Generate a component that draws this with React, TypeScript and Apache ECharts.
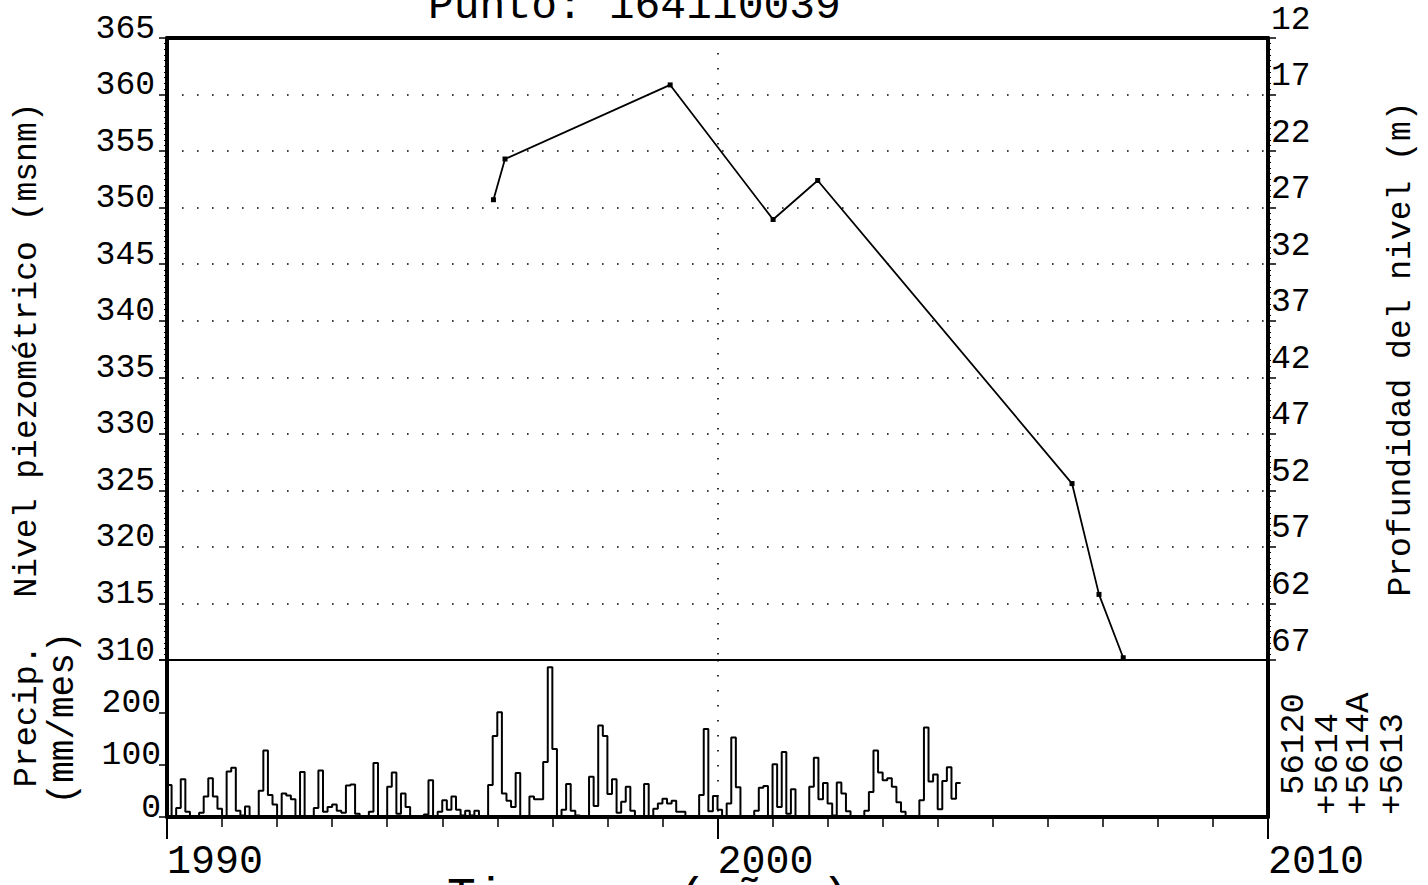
import React, { useEffect, useRef } from "react";
import * as echarts from "echarts";

// ---- Data ----
const title = "Punto: 164110039";
const xTitle = "Tiempo  (años)";
const leftTitle = "Nivel piezométrico (msnm)";
const rightTitle = "Profundidad del nivel (m)";
const precipTitle1 = "Precip.";
const precipTitle2 = "(mm/mes)";
const stationCodes = ["56120", "+5614", "+5614A", "+5613"];

// piezometric level observations (decimal year, m a.s.l.)
const levelDates = [1995.93, 1996.14, 1999.14, 2001.01, 2001.82, 2006.44, 2006.93, 2007.37];
const levelValues = [350.7, 354.3, 360.85, 348.95, 352.4, 325.6, 315.8, 310.2];

// monthly precipitation (mm/month), starting January 1990
const precipStartYear = 1990;
const precip1990 = [61, 0, 17, 72, 10, 0, 0, 8, 39, 74, 39, 16];
const precip1991 = [0, 87, 94, 12, 3, 20, 0, 0, 50, 127, 42, 24];
const precip1992 = [0, 45, 41, 34, 0, 86, 0, 0, 17, 89, 10, 19];
const precip1993 = [24, 12, 8, 60, 62, 6, 0, 0, 10, 103, 0, 0];
const precip1994 = [58, 85, 6, 45, 19, 0, 0, 0, 5, 70, 0, 10];
const precip1995 = [32, 14, 39, 14, 3, 12, 3, 12, 0, 0, 61, 155];
const precip1996 = [200, 45, 31, 19, 84, 0, 0, 39, 34, 34, 105, 286];
const precip1997 = [130, 0, 14, 63, 12, 3, 0, 0, 77, 21, 175, 155];
const precip1998 = [44, 72, 8, 29, 58, 12, 0, 0, 63, 0, 16, 26];
const precip1999 = [35, 26, 31, 10, 10, 0, 0, 0, 42, 168, 11, 40];
const precip2000 = [14, 0, 26, 152, 57, 0, 0, 0, 12, 56, 59, 0];
const precip2001 = [101, 19, 124, 6, 53, 0, 0, 0, 58, 113, 34, 65];
const precip2002 = [26, 3, 66, 45, 11, 0, 0, 0, 12, 48, 127, 85];
const precip2003 = [70, 74, 58, 28, 10, 0, 0, 0, 32, 171, 68, 81];
const precip2004 = [15, 69, 95, 35, 65];

const precipMonthly = [
  ...precip1990, ...precip1991, ...precip1992, ...precip1993, ...precip1994,
  ...precip1995, ...precip1996, ...precip1997, ...precip1998, ...precip1999,
  ...precip2000, ...precip2001, ...precip2002, ...precip2003, ...precip2004,
];

const FONT = "'Liberation Mono', 'Courier New', monospace";

export default function App() {
  const ref = useRef<HTMLDivElement>(null);

  useEffect(() => {
    if (!ref.current) return;
    const chart = echarts.init(ref.current, undefined, { renderer: "svg" });

    // step outline for monthly precipitation
    const precipSteps: [number, number][] = [];
    precipMonthly.forEach((v, k) => {
      const t0 = precipStartYear + k / 12;
      const t1 = precipStartYear + (k + 1) / 12;
      precipSteps.push([t0, v], [t1, v]);
    });

    const dotted = { color: "#000", width: 1.6, type: [1.6, 13.4] };
    const black = "#000";

    const txt = (
      text: string,
      x: number,
      y: number,
      size: number,
      align: string,
      rotation = 0
    ) => ({
      type: "text",
      x,
      y,
      rotation,
      silent: true,
      style: {
        text,
        fill: black,
        font: `${size}px ${FONT}`,
        fontSize: size,
        fontFamily: FONT,
        align,
        textAlign: align,
        verticalAlign: "middle",
        textVerticalAlign: "middle",
      },
    });

    const option: any = {
      animation: false,
      backgroundColor: "#fff",
      grid: [
        { left: 167, top: 38, width: 1101, height: 622 },
        { left: 167, top: 660, width: 1101, height: 157 },
      ],
      xAxis: [
        {
          type: "value",
          gridIndex: 0,
          min: 1990,
          max: 2010,
          interval: 10,
          position: "bottom",
          axisLine: { show: true, onZero: false, lineStyle: { color: black, width: 1.8 } },
          axisTick: { show: false },
          axisLabel: { show: false },
          splitLine: { show: true, lineStyle: dotted },
        },
        {
          type: "value",
          gridIndex: 0,
          min: 1990,
          max: 2010,
          interval: 10,
          position: "top",
          axisLine: { show: true, onZero: false, lineStyle: { color: black, width: 4 } },
          axisTick: { show: false },
          axisLabel: { show: false },
          splitLine: { show: false },
        },
        {
          type: "value",
          gridIndex: 1,
          min: 1990,
          max: 2010,
          interval: 10,
          position: "bottom",
          axisLine: { show: true, onZero: false, lineStyle: { color: black, width: 4 } },
          axisTick: { show: true, length: 22, lineStyle: { color: black, width: 2 } },
          minorTick: { show: true, splitNumber: 10, length: 10, lineStyle: { color: black, width: 1.5 } },
          axisLabel: {
            show: true,
            showMinLabel: true,
            showMaxLabel: true,
            fontFamily: FONT,
            fontSize: 40,
            color: black,
            align: "left",
            verticalAlign: "top",
            lineHeight: 40,
            margin: 25,
            formatter: (v: number) => String(v),
          },
          splitLine: { show: true, lineStyle: dotted },
        },
      ],
      yAxis: [
        {
          type: "value",
          gridIndex: 0,
          position: "left",
          min: 310,
          max: 365,
          interval: 5,
          axisLine: { show: true, onZero: false, lineStyle: { color: black, width: 4 } },
          axisTick: { show: true, length: 8, lineStyle: { color: black, width: 1.5 } },
          minorTick: { show: true, splitNumber: 10, length: 3, lineStyle: { color: black, width: 1 } },
          axisLabel: {
            fontFamily: FONT,
            fontSize: 33,
            color: black,
            margin: 12,
            verticalAlign: "bottom",
            lineHeight: 18,
            showMinLabel: true,
            showMaxLabel: true,
          },
          splitLine: { show: true, lineStyle: dotted },
        },
        {
          type: "value",
          gridIndex: 0,
          position: "right",
          min: 12,
          max: 67,
          interval: 5,
          inverse: true,
          axisLine: { show: true, onZero: false, lineStyle: { color: black, width: 4 } },
          axisTick: { show: true, length: 8, lineStyle: { color: black, width: 1.5 } },
          minorTick: { show: true, splitNumber: 10, length: 3, lineStyle: { color: black, width: 1 } },
          axisLabel: {
            fontFamily: FONT,
            fontSize: 33,
            color: black,
            margin: 3,
            verticalAlign: "bottom",
            lineHeight: 36,
            showMinLabel: true,
            showMaxLabel: true,
          },
          splitLine: { show: false },
        },
        {
          type: "value",
          gridIndex: 1,
          position: "left",
          min: 0,
          max: 300,
          interval: 100,
          axisLine: { show: true, onZero: false, lineStyle: { color: black, width: 4 } },
          axisTick: { show: true, length: 8, lineStyle: { color: black, width: 1.5 } },
          axisLabel: {
            fontFamily: FONT,
            fontSize: 33,
            color: black,
            margin: 6,
            verticalAlign: "bottom",
            lineHeight: 18,
            showMinLabel: true,
            formatter: (v: number) => (v >= 300 ? "" : String(v)),
          },
          splitLine: { show: false },
        },
        {
          type: "value",
          gridIndex: 1,
          position: "right",
          min: 0,
          max: 300,
          interval: 100,
          axisLine: { show: true, onZero: false, lineStyle: { color: black, width: 4 } },
          axisTick: { show: false },
          axisLabel: { show: false },
          splitLine: { show: false },
        },
      ],
      series: [
        {
          type: "line",
          name: "Nivel",
          xAxisIndex: 0,
          yAxisIndex: 0,
          data: levelDates.map((d, i) => [d, levelValues[i]]),
          symbol: "rect",
          symbolSize: 5,
          showSymbol: true,
          itemStyle: { color: black },
          lineStyle: { color: black, width: 1.8 },
          clip: false,
          z: 5,
        },
        {
          type: "line",
          name: "Precip",
          xAxisIndex: 2,
          yAxisIndex: 2,
          data: precipSteps,
          symbol: "none",
          showSymbol: false,
          lineStyle: { color: black, width: 2 },
          z: 5,
        },
      ],
      graphic: [
        txt(title, 428, 6, 43, "left"),
        txt(xTitle, 447, 898, 48, "left"),
        txt(leftTitle, 27, 350, 33, "center", Math.PI / 2),
        txt(rightTitle, 1401, 349, 33, "center", Math.PI / 2),
        txt(precipTitle1, 27, 716, 34, "center", Math.PI / 2),
        txt(precipTitle2, 63, 718, 36, "center", Math.PI / 2),
        txt(stationCodes[0], 1294, 795, 34, "left", Math.PI / 2),
        txt(stationCodes[1], 1328, 815, 34, "left", Math.PI / 2),
        txt(stationCodes[2], 1359, 815, 34, "left", Math.PI / 2),
        txt(stationCodes[3], 1393, 815, 34, "left", Math.PI / 2),
      ],
    };

    chart.setOption(option);
    return () => chart.dispose();
  }, []);

  return (
    <div
      ref={ref}
      style={{ position: "fixed", left: 0, top: 0, width: 1428, height: 885, background: "#fff" }}
    />
  );
}
